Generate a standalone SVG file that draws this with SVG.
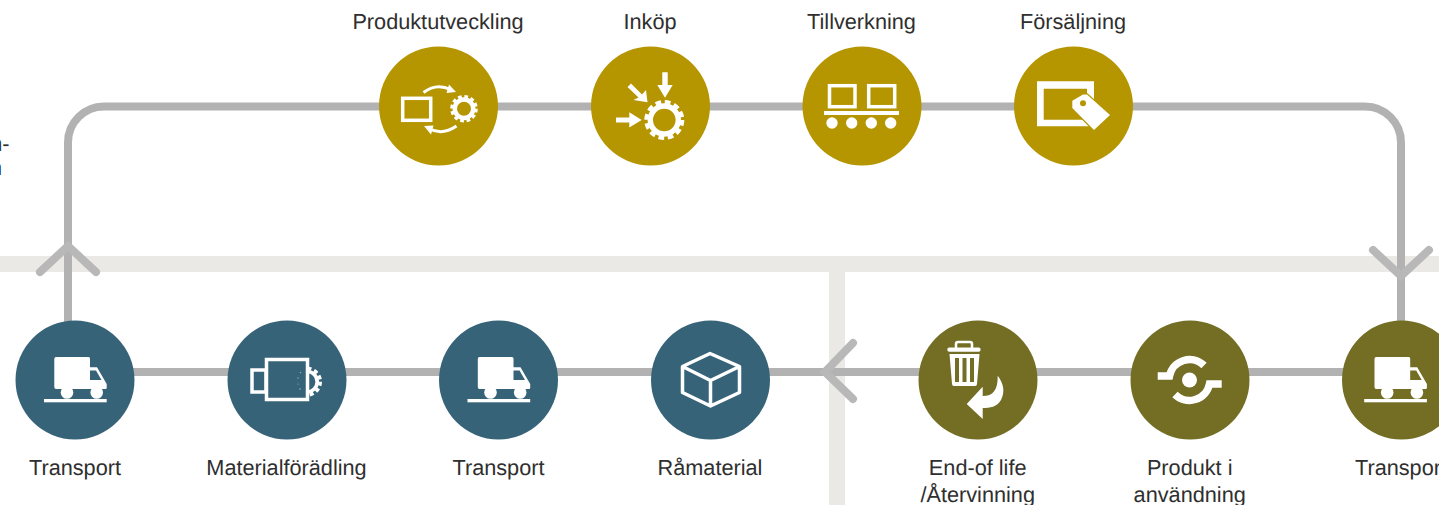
<svg xmlns="http://www.w3.org/2000/svg" width="1439" height="505" viewBox="0 0 1439 505">
<style>
text{font-family:"Liberation Sans",Arial,sans-serif;font-size:21.700px;fill:#2b2b2b;text-anchor:middle;text-rendering:geometricPrecision;opacity:.98}
.band{fill:#eae9e6}
.ln{fill:none;stroke:#b2b2b2;stroke-width:8}
.ch{fill:none;stroke:#b8b8b8;stroke-width:8;stroke-linecap:round;stroke-linejoin:miter}
.gold{fill:#b59500}.blue{fill:#376378}.olive{fill:#736e24}
.w{fill:#fff}.o{fill:none;stroke:#fff;stroke-width:3.500}
.g{fill:none;stroke:#fff}
</style>
<defs>
<clipPath id="gc"><rect x="308" y="360" width="20" height="44"/></clipPath>
<g id="truck">
<path class="w" d="M-20.700-21Q-20.700-23-19-23H13.500Q15-23 15-21.500V-12.700H22L31.700 4V8Q31.700 9 30.500 9H-19Q-20.700 9-20.700 7Z"/>
<path d="M15-9.500H21L26.500 0H15Z" fill="var(--bg)"/>
<circle class="w" cx="-8" cy="12.500" r="6.300"/><circle class="w" cx="21.700" cy="12.500" r="6.300"/>
<rect class="w" x="-31" y="19" width="62.700" height="3.300"/>
</g>
</defs>
<rect class="band" x="0" y="256" width="1439" height="16"/>
<rect class="band" x="829" y="272" width="16" height="233"/>
<text x="9.500" y="151" style="text-anchor:end">n-</text>
<text x="2" y="175" style="text-anchor:end">n</text>
<g id="connectors">
<path class="ln" d="M68 330V142.500A36 36 0 0 1 104 106.500H1365A36 36 0 0 1 1401 142.500V330"/>
<path class="ln" d="M120 372H1360"/>
<path class="ch" d="M40 272L68 246L96 272"/>
<path class="ch" d="M1373 250L1401 276L1429 250"/>
<path class="ch" d="M853 343L825 372L853 399"/>
</g>
<g id="produktutveckling">
<circle class="gold" cx="438.500" cy="106" r="59.500"/>
<rect class="o" x="402.700" y="98.300" width="28" height="22"/>
<path d="M423.500 92.500Q437 82.500 451 90" fill="none" stroke="#fff" stroke-width="3"/><path class="w" d="M449 84.500L456 92L446.500 93Z"/>
<path d="M456.500 126Q442 136 429 128.500" fill="none" stroke="#fff" stroke-width="3"/><path class="w" d="M424 126L431 134.500L433.500 125.500Z"/>
<circle class="g" cx="464" cy="108.700" r="9.250" stroke-width="4.500"/>
<circle class="g" cx="464" cy="108.700" r="12.300" stroke-width="3" stroke-dasharray="3.700 2.740"/>
<text x="438" y="29">Produktutveckling</text>
</g>
<g id="inkop">
<circle class="gold" cx="650.500" cy="106" r="59.500"/>
<path class="w" d="M662.300 72.300H667.700V85H672.700L665 97.700L657.300 85H662.300Z"/>
<path class="w" d="M616 117.500H629.300V112.300L641.700 120L629.300 127.500V122.500H616Z"/>
<path class="w" d="M627.500 87L631 83.500L642 94.500L646 90L647.500 102.300L633.500 100L638.500 97.500Z"/>
<circle class="g" cx="664.300" cy="120" r="14" stroke-width="5.400"/>
<circle class="g" cx="664.300" cy="120" r="17.750" stroke-width="4.500" stroke-dasharray="5.600 3.690"/>
<text x="650" y="29">Inköp</text>
</g>
<g id="tillverkning">
<circle class="gold" cx="862" cy="106" r="59.500"/>
<rect class="o" x="829.500" y="85.700" width="25.500" height="21"/>
<rect class="o" x="868.700" y="85.700" width="26" height="21"/>
<rect class="w" x="824" y="111" width="75" height="4"/>
<circle class="w" cx="832" cy="123" r="5.700"/><circle class="w" cx="851.700" cy="123" r="5.700"/><circle class="w" cx="871.300" cy="123" r="5.700"/><circle class="w" cx="890.700" cy="123" r="5.700"/>
<text x="861.500" y="29">Tillverkning</text>
</g>
<g id="forsaljning">
<circle class="gold" cx="1073.500" cy="106" r="59.500"/>
<path class="w" fill-rule="evenodd" d="M1037 81.300H1094V126.300H1037ZM1043.700 88.700V119.700H1087V88.700Z"/>
<path d="M1072.300 100.700L1083 94.500H1087L1110 115L1094 130L1072.300 108Z" fill="#fff" stroke="#b59500" stroke-width="2.500" paint-order="stroke"/>
<circle class="gold" cx="1083" cy="103.300" r="3"/>
<text x="1073" y="29">Försäljning</text>
</g>
<g id="transport-1" style="--bg:#376378">
<circle class="blue" cx="75" cy="380" r="59.500"/>
<use href="#truck" x="75" y="380"/>
<text x="75" y="475">Transport</text>
</g>
<g id="materialforadling">
<circle class="blue" cx="287" cy="380" r="59.500"/>
<g clip-path="url(#gc)">
<circle class="g" cx="307" cy="381.700" r="10.250" stroke-width="3.700"/>
<circle class="g" cx="307" cy="381.700" r="13.250" stroke-width="3.500" stroke-dasharray="4 2.940"/>
</g>
<rect class="o" x="252" y="370" width="14" height="22"/>
<rect class="o" x="266.500" y="359.500" width="41" height="40"/>
<g fill="#fff" opacity=".5"><circle cx="300.500" cy="372.500" r=".7"/><circle cx="298" cy="378" r=".7"/><circle cx="298" cy="384" r=".6"/><circle cx="300" cy="389" r=".8"/></g>
<text x="286.500" y="475">Materialförädling</text>
</g>
<g id="transport-2" style="--bg:#376378">
<circle class="blue" cx="498.500" cy="380" r="59.500"/>
<use href="#truck" x="498.500" y="380"/>
<text x="498.500" y="475">Transport</text>
</g>
<g id="ramaterial">
<circle class="blue" cx="710.500" cy="380" r="59.500"/>
<path d="M710 353.500L739.500 366.500V392.500L710.500 406L682.500 392.500V366.500ZM682.500 366.500L710.500 380.500L739.500 366.500M710.500 380.500V406" fill="none" stroke="#fff" stroke-width="3.500" stroke-linejoin="round"/>
<text x="710" y="475">Råmaterial</text>
</g>
<g id="end-of-life">
<circle class="olive" cx="978" cy="380" r="59.500"/>
<path d="M956 348V344Q956 342 958 342H970Q972 342 972 344V348" fill="none" stroke="#fff" stroke-width="2.500"/>
<rect class="w" x="947.300" y="347.500" width="33.300" height="4.300" rx="2"/>
<path class="w" fill-rule="evenodd" d="M949.500 354H979.500L977 384Q977 386 975 386H954Q952 386 952 384ZM955 358V382H959V358ZM962.500 358V382H966.500V358ZM970 358V382H974V358Z"/>
<path class="w" d="M966.700 404L982.700 386.700V396C993 396 998 390 997.700 375.700C1004 384 1005 392 1001 400C997 407 990 408 982.700 408V419Z"/>
<text x="977.700" y="475">End-of life</text>
<text x="977.700" y="502">/Återvinning</text>
</g>
<g id="produkt-i-anvandning">
<circle class="olive" cx="1190" cy="380" r="59.500"/>
<circle class="w" cx="1189.500" cy="380" r="7.500"/>
<path d="M1157.700 376H1169.500A20.500 20.500 0 0 1 1204 365.500" fill="none" stroke="#fff" stroke-width="7.500"/>
<path d="M1221.700 384H1209.500A20.500 20.500 0 0 1 1175 394.500" fill="none" stroke="#fff" stroke-width="7.500"/>
<text x="1189.700" y="475">Produkt i</text>
<text x="1189.700" y="502">användning</text>
</g>
<g id="transport-3" style="--bg:#736e24">
<circle class="olive" cx="1401.500" cy="380" r="59.500"/>
<use href="#truck" x="1395.200" y="380"/>
<text x="1401" y="475">Transport</text>
</g>
</svg>
